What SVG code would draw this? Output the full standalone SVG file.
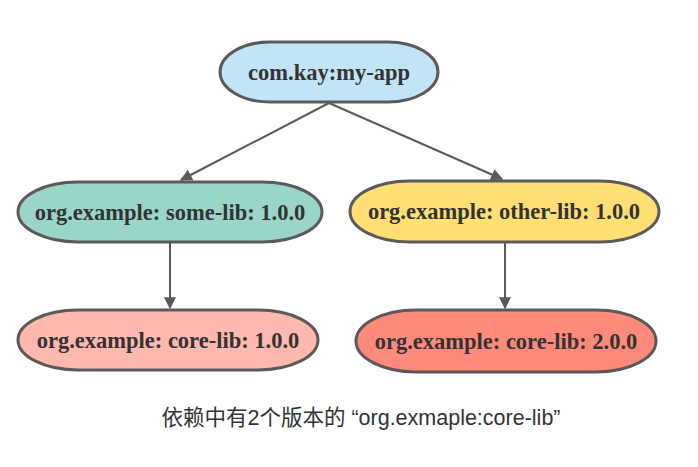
<svg xmlns="http://www.w3.org/2000/svg" width="698" height="467" viewBox="0 0 698 467">
<defs>
<style>
.n{stroke:#5a5a5a;stroke-width:3}
.t{font-family:"Liberation Serif",serif;font-weight:bold;font-size:22.5px;fill:#333;text-anchor:middle;dominant-baseline:central}
.c{stroke:#5a5a5a;stroke-width:2;fill:none}
</style>
<marker id="a" viewBox="0 0 10 10" refX="9" refY="5" markerWidth="16" markerHeight="12" orient="auto" markerUnits="userSpaceOnUse"><path d="M0,0L10,5L0,10z" fill="#5a5a5a"/></marker>
</defs>
<rect width="698" height="467" fill="#fff"/>
<g id="connectors">
<line class="c" x1="329" y1="103" x2="181" y2="180" marker-end="url(#a)"/>
<line class="c" x1="329" y1="103" x2="502" y2="179" marker-end="url(#a)"/>
<line class="c" x1="170" y1="243" x2="170" y2="308" marker-end="url(#a)"/>
<line class="c" x1="505" y1="243" x2="505" y2="308" marker-end="url(#a)"/>
</g>
<g id="app"><rect class="n" x="220" y="42" width="218" height="60" rx="50" ry="30" fill="#c2e4f7"/><text class="t" x="329" y="72">com.kay:my-app</text></g>
<g id="some-lib"><rect class="n" x="18" y="182" width="304" height="60" rx="60" ry="30" fill="#9ad5ca"/><text class="t" x="170" y="212">org.example: some-lib: 1.0.0</text></g>
<g id="other-lib"><rect class="n" x="350" y="181" width="309" height="61" rx="60" ry="30.5" fill="#ffdf71"/><text class="t" x="504" y="211">org.example: other-lib: 1.0.0</text></g>
<g id="core-lib-1"><rect class="n" x="18" y="310" width="300" height="60" rx="60" ry="30" fill="#ffb8ae"/><text class="t" x="168" y="340">org.example: core-lib: 1.0.0</text></g>
<g id="core-lib-2"><rect class="n" x="356" y="310" width="300" height="62" rx="60" ry="31" fill="#ff8a7a"/><text class="t" x="506" y="341">org.example: core-lib: 2.0.0</text></g>
<text x="361" y="418" font-family="'Liberation Sans','Noto Sans CJK SC',sans-serif" font-size="21.5" fill="#333" text-anchor="middle" dominant-baseline="central">依赖中有2个版本的 “org.exmaple:core-lib”</text>
</svg>
